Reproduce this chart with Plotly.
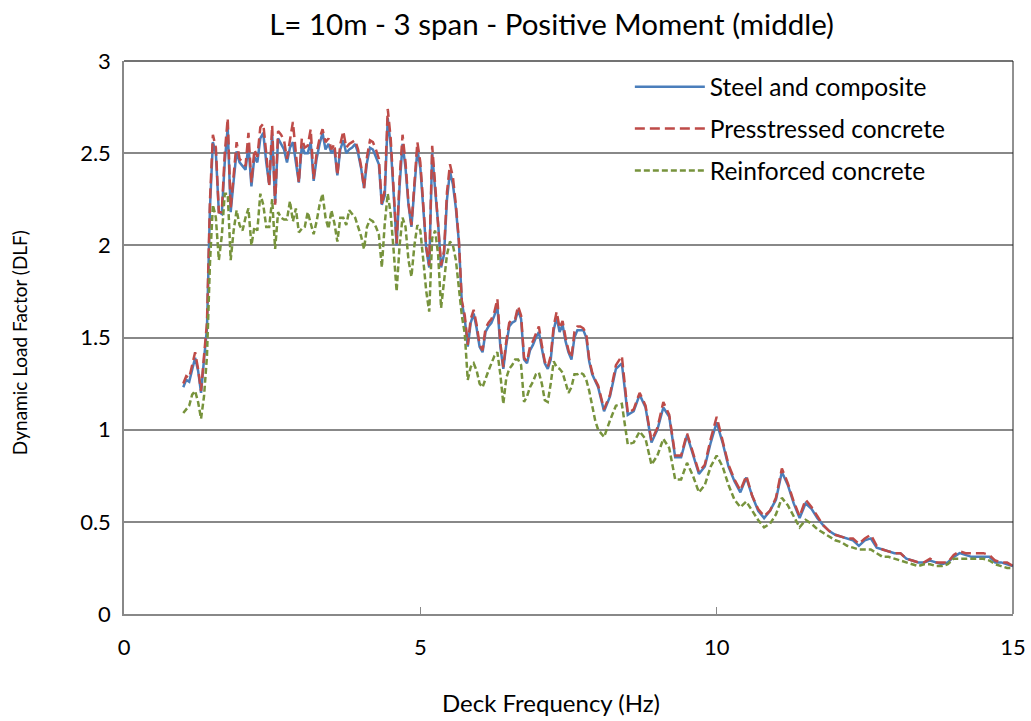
import numpy as np
import plotly.graph_objects as go

# Deck frequency grid (Hz): fine steps up to 8 Hz, coarser beyond
FREQ = np.concatenate([
    np.round(np.arange(1.0, 8.0001, 0.05), 2),
    np.round(np.arange(8.1, 15.0001, 0.1), 2),
])

STEEL = [
    1.23, 1.27, 1.26, 1.33, 1.39, 1.32, 1.20, 1.38, 1.55, 2.20,
    2.56, 2.50, 2.18, 2.17, 2.45, 2.64, 2.18, 2.35, 2.51, 2.45,
    2.43, 2.41, 2.54, 2.32, 2.48, 2.45, 2.58, 2.61, 2.45, 2.33,
    2.60, 2.23, 2.58, 2.55, 2.52, 2.45, 2.53, 2.56, 2.45, 2.34,
    2.54, 2.50, 2.50, 2.56, 2.35, 2.47, 2.55, 2.61, 2.52, 2.55,
    2.50, 2.52, 2.38, 2.52, 2.57, 2.50, 2.52, 2.53, 2.55, 2.50,
    2.42, 2.31, 2.45, 2.53, 2.52, 2.48, 2.44, 2.22, 2.27, 2.69,
    2.54, 2.28, 2.00, 2.32, 2.55, 2.42, 2.22, 2.10, 2.32, 2.52,
    2.42, 2.18, 1.98, 1.88, 2.50, 2.30, 2.12, 1.88, 1.95, 2.25,
    2.40, 2.33, 2.20, 2.02, 1.69, 1.60, 1.45, 1.58, 1.63, 1.55,
    1.45, 1.42, 1.53, 1.56, 1.58, 1.62, 1.67, 1.45, 1.33, 1.46,
    1.56, 1.58, 1.59, 1.65, 1.60, 1.38, 1.36, 1.43, 1.46, 1.50,
    1.53, 1.44, 1.36, 1.33, 1.38, 1.54, 1.61, 1.53, 1.57, 1.48,
    1.42, 1.38, 1.50, 1.54, 1.54, 1.54, 1.50, 1.37, 1.30, 1.26,
    1.23,
    1.10, 1.18, 1.33, 1.36, 1.08, 1.10, 1.19, 1.12, 0.93, 1.00,
    1.12, 1.07, 0.85, 0.85, 0.97, 0.87, 0.76, 0.80, 0.93, 1.04,
    0.93, 0.80, 0.72, 0.66, 0.74, 0.64, 0.56, 0.52, 0.56, 0.62,
    0.77, 0.70, 0.60, 0.52, 0.60, 0.57, 0.52, 0.48, 0.45, 0.43,
    0.42, 0.41, 0.40, 0.37, 0.40, 0.41, 0.36, 0.35, 0.34, 0.33,
    0.33, 0.30, 0.29, 0.28, 0.28, 0.29, 0.28, 0.27, 0.28, 0.31,
    0.33, 0.32, 0.31, 0.31, 0.31, 0.31, 0.28, 0.28, 0.27, 0.26,
]

PRESTRESSED = [
    1.25, 1.29, 1.28, 1.35, 1.42, 1.33, 1.21, 1.40, 1.58, 2.24,
    2.60, 2.53, 2.18, 2.18, 2.50, 2.69, 2.20, 2.38, 2.56, 2.47,
    2.45, 2.43, 2.61, 2.34, 2.52, 2.48, 2.64, 2.66, 2.50, 2.32,
    2.65, 2.22, 2.62, 2.60, 2.57, 2.47, 2.57, 2.67, 2.50, 2.34,
    2.58, 2.53, 2.54, 2.63, 2.36, 2.50, 2.58, 2.63, 2.56, 2.58,
    2.52, 2.55, 2.38, 2.55, 2.62, 2.53, 2.55, 2.56, 2.57, 2.52,
    2.43, 2.31, 2.48, 2.57, 2.56, 2.52, 2.47, 2.22, 2.30, 2.74,
    2.58, 2.30, 2.01, 2.36, 2.60, 2.45, 2.23, 2.11, 2.36, 2.56,
    2.45, 2.19, 1.99, 1.89, 2.54, 2.33, 2.13, 1.89, 1.97, 2.29,
    2.44, 2.37, 2.22, 2.03, 1.70, 1.62, 1.46, 1.60, 1.65, 1.57,
    1.46, 1.43, 1.55, 1.58, 1.60, 1.64, 1.71, 1.47, 1.34, 1.48,
    1.58, 1.60, 1.60, 1.67, 1.62, 1.39, 1.37, 1.45, 1.48, 1.52,
    1.56, 1.46, 1.37, 1.34, 1.40, 1.56, 1.64, 1.55, 1.59, 1.50,
    1.43, 1.39, 1.53, 1.56, 1.56, 1.55, 1.52, 1.38, 1.31, 1.27,
    1.24,
    1.11, 1.19, 1.35, 1.40, 1.09, 1.11, 1.20, 1.13, 0.94, 1.01,
    1.15, 1.08, 0.86, 0.86, 0.98, 0.88, 0.77, 0.81, 0.95, 1.07,
    0.94, 0.81, 0.73, 0.67, 0.75, 0.64, 0.57, 0.53, 0.56, 0.63,
    0.79, 0.71, 0.61, 0.53, 0.62, 0.58, 0.53, 0.48, 0.45, 0.43,
    0.42, 0.41, 0.41, 0.38, 0.41, 0.43, 0.37, 0.35, 0.34, 0.33,
    0.33, 0.30, 0.29, 0.28, 0.28, 0.30, 0.28, 0.28, 0.28, 0.32,
    0.34, 0.33, 0.33, 0.33, 0.33, 0.32, 0.29, 0.28, 0.28, 0.26,
]

REINFORCED = [
    1.09, 1.11, 1.13, 1.19, 1.21, 1.15, 1.06, 1.18, 1.40, 1.90,
    2.22, 2.15, 1.92, 2.05, 2.28, 2.28, 1.92, 2.08, 2.19, 2.11,
    2.08, 2.15, 2.20, 2.00, 2.10, 2.08, 2.28, 2.22, 2.10, 2.10,
    2.25, 1.98, 2.18, 2.15, 2.14, 2.14, 2.24, 2.13, 2.20, 2.07,
    2.09, 2.10, 2.18, 2.12, 2.06, 2.13, 2.22, 2.28, 2.15, 2.09,
    2.19, 2.12, 2.02, 2.15, 2.15, 2.11, 2.19, 2.17, 2.15, 2.10,
    2.05, 1.98, 2.10, 2.14, 2.13, 2.10, 2.06, 1.88, 2.12, 2.28,
    2.17, 1.97, 1.75, 2.00, 2.15, 2.10, 1.92, 1.83, 2.00, 2.11,
    2.08, 1.92, 1.75, 1.64, 2.04, 2.08, 1.95, 1.66, 1.80, 1.95,
    2.02, 2.00, 1.92, 1.78, 1.62, 1.52, 1.27, 1.34, 1.36, 1.32,
    1.25, 1.23, 1.28, 1.32, 1.36, 1.40, 1.42, 1.30, 1.14, 1.28,
    1.33, 1.35, 1.38, 1.38, 1.35, 1.15, 1.18, 1.23, 1.26, 1.30,
    1.31, 1.25, 1.16, 1.15, 1.25, 1.37, 1.34, 1.33, 1.31, 1.26,
    1.20, 1.23, 1.30, 1.30, 1.31, 1.30, 1.27, 1.21, 1.12, 1.05,
    1.00,
    0.96, 1.05, 1.13, 1.14, 0.92, 0.93, 0.99, 0.95, 0.81, 0.86,
    0.95, 0.90, 0.73, 0.73, 0.82, 0.75, 0.66, 0.70, 0.80, 0.86,
    0.80, 0.70, 0.62, 0.58, 0.61, 0.56, 0.51, 0.47, 0.49, 0.54,
    0.63, 0.59, 0.53, 0.47, 0.51, 0.49, 0.46, 0.44, 0.42, 0.40,
    0.39, 0.37, 0.36, 0.35, 0.35, 0.35, 0.33, 0.31, 0.31, 0.30,
    0.29, 0.28, 0.27, 0.26, 0.27, 0.27, 0.26, 0.26, 0.27, 0.30,
    0.30, 0.30, 0.30, 0.30, 0.30, 0.29, 0.27, 0.26, 0.25, 0.25,
]

X_TICKS = [0, 5, 10, 15]
Y_TICKS = [0, 0.5, 1, 1.5, 2, 2.5, 3]
Y_TICK_TEXT = ["0", "0.5", "1", "1.5", "2", "2.5", "3"]

FONT = "Lato, 'Open Sans', sans-serif"
TEXT_COLOR = "#000000"
GRID = "#888888"

fig = go.Figure()

series = [
    ("Steel and composite", STEEL, "#4A7EBB", "solid"),
    ("Presstressed concrete", PRESTRESSED, "#BE4B48", "10px,5px"),
    ("Reinforced concrete", REINFORCED, "#77933C", "6px,3px"),
]
for name, vals, color, dash in series:
    fig.add_trace(go.Scatter(
        x=FREQ, y=vals, mode="lines", name=name,
        legendgroup=name,
        line=dict(color=color, width=2.5, dash=dash),
    ))

fig.update_layout(
    width=1031, height=721,
    margin=dict(l=124, r=18, t=61, b=107),
    paper_bgcolor="white", plot_bgcolor="white",
    font=dict(family=FONT, size=22, color=TEXT_COLOR),
    title=dict(
        text="L= 10m - 3 span - Positive Moment (middle)",
        x=0.535, xanchor="center", y=0.966, yanchor="middle",
        font=dict(family=FONT, size=29.5, color=TEXT_COLOR),
    ),
    showlegend=True,
    legend=dict(
        x=0.569, xanchor="left", y=0.994, yanchor="top",
        bgcolor="rgba(0,0,0,0)", borderwidth=0,
        font=dict(family=FONT, size=24.5, color=TEXT_COLOR),
        tracegroupgap=7, itemwidth=70,
    ),
    xaxis=dict(
        range=[0, 15], tickvals=X_TICKS, automargin=False,
        showgrid=False, zeroline=False,
        showline=True, linecolor=GRID, linewidth=1.5,
        ticks="inside", ticklen=7, tickcolor=GRID, tickwidth=1,
        ticklabelstandoff=13,
        tickfont=dict(family=FONT, size=22, color=TEXT_COLOR),
    ),
    yaxis=dict(
        range=[0, 3], tickvals=Y_TICKS, ticktext=Y_TICK_TEXT,
        automargin=False,
        showgrid=True, gridcolor=GRID, gridwidth=1.5,
        zeroline=False,
        showline=True, linecolor=GRID, linewidth=1.5,
        ticks="", ticklabelstandoff=7,
        tickfont=dict(family=FONT, size=22, color=TEXT_COLOR),
    ),
)

# Axis titles
fig.add_annotation(
    text="Deck Frequency (Hz)", xref="paper", yref="paper",
    x=0.48, y=-0.16, xanchor="center", yanchor="middle", showarrow=False,
    font=dict(family=FONT, size=24, color=TEXT_COLOR),
)
fig.add_annotation(
    text="Dynamic Load Factor (DLF)", xref="paper", yref="paper",
    x=-0.118, y=0.49, xanchor="center", yanchor="middle", showarrow=False,
    textangle=-90,
    font=dict(family=FONT, size=19, color=TEXT_COLOR),
)

# Dark frame on the top and right of the plotting area
fig.add_shape(type="line", xref="paper", yref="paper", x0=0, x1=1, y0=1, y1=1,
              line=dict(color="#444444", width=1.5))
fig.add_shape(type="line", xref="paper", yref="paper", x0=1, x1=1, y0=0, y1=1,
              line=dict(color="#222222", width=1))

fig.write_html("out.html")
